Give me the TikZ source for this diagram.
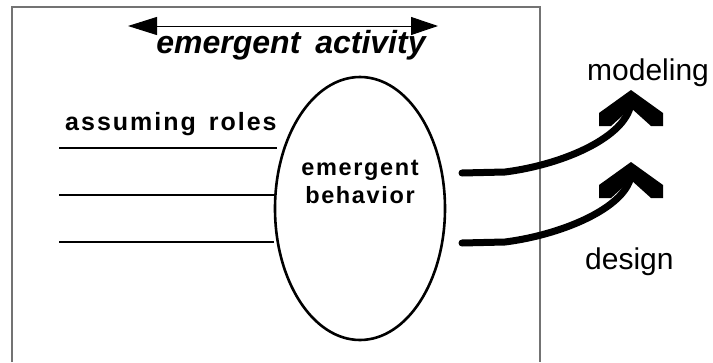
\documentclass[tikz,border=0pt]{standalone}
\usepackage{fontspec}
\setmainfont{Liberation Sans}
\usetikzlibrary{arrows.meta,shapes.geometric}
\begin{document}
\begin{tikzpicture}[x=1pt,y=-1pt,
  frame/.style={draw=black!55,line width=1.5pt},
  roleline/.style={draw=black,line width=2pt},
  ell/.style={draw=black,line width=2.6pt,ellipse,minimum width=170pt,minimum height=263pt,inner sep=0pt},
  lbl/.style={inner sep=0pt,anchor=base},
  boldsp/.style={font=\fontsize{25}{25}\selectfont\bfseries\addfontfeature{LetterSpace=8}},
  behav/.style={font=\fontsize{23.5}{23.5}\selectfont\bfseries\addfontfeature{LetterSpace=7}},
  plain/.style={font=\fontsize{30}{30}\selectfont},
  act/.style={draw=black,line width=1pt,{Triangle[length=29pt,width=18pt]}-{Triangle[length=27pt,width=18pt]}},
  flow/.style={draw=black,line width=7pt,line cap=round},
  chev/.style={fill=black}]
\useasboundingbox (0,0) rectangle (713,362);
% frame
\draw[frame] (12,362) -- (12,7) -- (540,7) -- (540,362);
% emergent activity arrow
\coordinate (aL) at (128,26);
\coordinate (aR) at (438,26);
\draw[act] (aL) -- (aR);
\node[lbl,font=\fontsize{32}{32}\selectfont\bfseries\itshape] (ea) at (291,53) {emergent\hspace{6pt} activity};
% ellipse
\node[ell] (eb) at (360,208.5) {};
\node[lbl,behav] (eb1) at (360,175) {emergent};
\node[lbl,behav] (eb2) at (360,203) {behavior};
% assuming roles
\node[lbl,boldsp,anchor=base west] (ar) at (65,130) {assuming\hspace{4pt} roles};
\coordinate (l1s) at (59,148);
\coordinate (l1e) at (277,148);
\coordinate (l2s) at (59,195);
\coordinate (l3s) at (59,242);
\draw[roleline] (l1s) -- (l1e);
\draw[roleline] (l2s) -- (eb.west |- l2s);
\draw[roleline] (l3s) -- (eb.west |- l3s);
% flows
\coordinate (f1s) at (462,173);
\coordinate (f1m) at (505,172);
\coordinate (ch1) at (630,108);
\coordinate (f2s) at (462,243);
\coordinate (f2m) at (505,242);
\coordinate (ch2) at (630,180);
\draw[flow] (f1s) -- (f1m) .. controls (560,165) and (620,140) .. (ch1);
\draw[flow] (f2s) -- (f2m) .. controls (560,235) and (620,210) .. (ch2);
\fill[chev] (599,126) -- (599,113) -- (631,90) -- (663,113) -- (663,126) -- (651,126) -- (631,108) -- (611,126) -- cycle;
\fill[chev] (599,198) -- (599,185) -- (631,162) -- (663,185) -- (663,198) -- (651,198) -- (631,180) -- (611,198) -- cycle;
% labels
\node[lbl,plain,anchor=base west] (mod) at (587,80) {modeling};
\node[lbl,plain,anchor=base west] (des) at (585,269) {design};
\end{tikzpicture}
\end{document}
